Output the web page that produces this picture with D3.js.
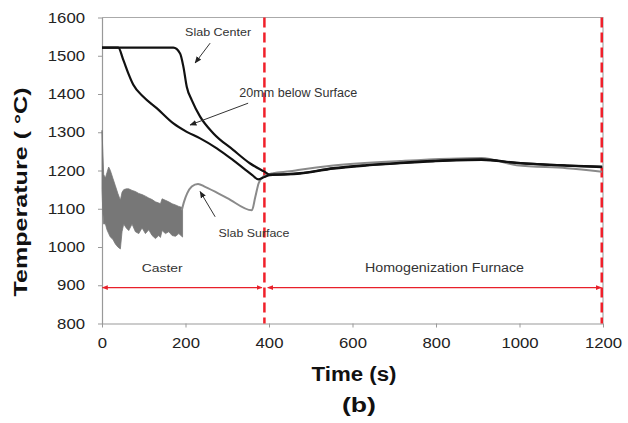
<!DOCTYPE html>
<html>
<head>
<meta charset="utf-8">
<script src="https://cdn.jsdelivr.net/npm/d3@7"></script>
<style>
  body { margin: 0; background: #fff; }
  svg { display: block; font-family: "Liberation Sans", Arial, sans-serif; }
</style>
</head>
<body>
<svg id="chart" width="628" height="423"></svg>
<script>
// axis ticks
const xTicks = [0, 200, 400, 600, 800, 1000, 1200];
const yTicks = [800, 900, 1000, 1100, 1200, 1300, 1400, 1500, 1600];

// slab center (black)
const centerTime = [0, 171, 187, 195, 203, 215, 235, 267, 314, 354, 389, 402, 474, 554, 634, 714, 794, 909, 993, 1113, 1198];
const centerTemp = [1521, 1521, 1506, 1471, 1419, 1384, 1341, 1297, 1254, 1219, 1197, 1189, 1193, 1206, 1214, 1220, 1225, 1229, 1220, 1213, 1210];

// 20 mm below surface (black)
const subTime = [0, 39, 51, 63, 75, 99, 131, 171, 203, 235, 275, 314, 340, 360, 374, 389, 402, 474, 554, 634, 714, 794, 909, 993, 1113, 1198];
const subTemp = [1521, 1521, 1489, 1454, 1424, 1393, 1363, 1323, 1301, 1284, 1258, 1227, 1205, 1188, 1177, 1183, 1188, 1192, 1205, 1213, 1219, 1224, 1228, 1220, 1213, 1209];

// slab surface: oscillating band in the mould/spray zone (envelope)
const bandTime = [0, 2, 4, 8, 12, 16, 20, 26, 32, 38, 44, 48, 52, 58, 64, 72, 80, 88, 96, 104, 112, 120, 128, 136, 140, 144, 152, 160, 168, 176, 184, 193];
const bandHigh = [1305, 1250, 1190, 1180, 1195, 1209, 1200, 1180, 1160, 1140, 1122, 1143, 1150, 1152, 1152, 1148, 1145, 1140, 1137, 1133, 1128, 1124, 1118, 1115, 1113, 1126, 1122, 1118, 1113, 1110, 1106, 1103];
const bandLow = [1150, 1090, 1060, 1061, 1045, 1035, 1026, 1020, 1008, 1000, 995, 1040, 1060, 1050, 1043, 1060, 1040, 1035, 1050, 1035, 1045, 1030, 1022, 1030, 1025, 1043, 1035, 1040, 1030, 1028, 1035, 1026];

// slab surface after the band
const surfTime = [191, 197, 204, 215, 230, 247, 300, 359, 367, 375, 386, 410, 450, 474, 554, 714, 909, 993, 1113, 1198];
const surfTemp = [1096, 1120, 1140, 1158, 1165, 1157, 1128, 1096, 1130, 1166, 1184, 1193, 1198, 1202, 1213, 1225, 1233, 1214, 1206, 1197];

// zone boundaries and zone arrows
const zoneLines = [389, 1197];
const zoneArrowTemp = 894;
const zoneArrows = [[1, 383], [397, 1196]];

// annotations: [label, time, temp, width], arrows: [fromTime, fromTemp, toTime, toTemp]
const labels = [
  ["Slab Center", 199, 1552, 66],
  ["20mm below Surface", 329, 1393, 118],
  ["Slab Surface", 279, 1025, 71],
  ["Caster", 95, 935, 41],
  ["Homogenization Furnace", 630, 934, 159]
];
const arrows = [
  [259, 1533, 223, 1481],
  [350, 1376, 211, 1319],
  [271, 1079, 235, 1145]
];

const svg = d3.select("#chart");
const x = d3.scaleLinear().domain([0, 1200]).range([102, 603]);
const y = d3.scaleLinear().domain([800, 1600]).range([323.5, 17.5]);

const defs = svg.append("defs");
defs.append("marker").attr("id", "ah").attr("viewBox", "0 0 10 10")
  .attr("refX", 9).attr("refY", 5).attr("markerWidth", 7).attr("markerHeight", 7)
  .attr("markerUnits", "userSpaceOnUse").attr("orient", "auto")
  .append("path").attr("d", "M0,1L10,5L0,9Z").attr("fill", "#222");
defs.append("marker").attr("id", "rh").attr("viewBox", "0 0 10 10")
  .attr("refX", 9).attr("refY", 5).attr("markerWidth", 6).attr("markerHeight", 6)
  .attr("markerUnits", "userSpaceOnUse").attr("orient", "auto-start-reverse")
  .append("path").attr("d", "M0,1L10,5L0,9Z").attr("fill", "#e8202a");

// frame (top and right)
svg.append("path")
  .attr("d", `M${x(0)},${y(1600)}H${x(1200)}V${y(800)}`)
  .attr("fill", "none").attr("stroke", "#aaa").attr("stroke-width", 1.2);

// axes
const fmt = d3.format("d");
const yAxis = svg.append("g").attr("transform", `translate(${x(0)},0)`)
  .call(d3.axisLeft(y).tickValues(yTicks).tickFormat(fmt).tickSizeInner(4).tickSizeOuter(0).tickPadding(13));
const xAxis = svg.append("g").attr("transform", `translate(0,${y(800)})`)
  .call(d3.axisBottom(x).tickValues(xTicks).tickFormat(fmt).tickSizeInner(4).tickSizeOuter(0).tickPadding(10));
[xAxis, yAxis].forEach(a => {
  a.select(".domain").attr("stroke", "#999").attr("stroke-width", 1.2);
  a.selectAll(".tick line").attr("stroke", "#999");
  a.selectAll(".tick text")
    .attr("font-size", 14.5).attr("fill", "#222")
    .attr("font-family", "Liberation Sans, Arial, sans-serif")
    .attr("textLength", d => fmt(d).length * 9.3)
    .attr("lengthAdjust", "spacingAndGlyphs");
});

// zone lines
svg.selectAll(".zone").data(zoneLines).enter().append("line")
  .attr("x1", d => x(d)).attr("x2", d => x(d))
  .attr("y1", y(1600)).attr("y2", y(800))
  .attr("stroke", "#f0202a").attr("stroke-width", 2.5).attr("stroke-dasharray", "10,5");

svg.selectAll(".zarrow").data(zoneArrows).enter().append("line")
  .attr("x1", d => x(d[0])).attr("x2", d => x(d[1]))
  .attr("y1", y(zoneArrowTemp)).attr("y2", y(zoneArrowTemp))
  .attr("stroke", "#e8202a").attr("stroke-width", 1.2)
  .attr("marker-start", "url(#rh)").attr("marker-end", "url(#rh)");

// surface band
svg.append("path")
  .datum(bandTime.map((t, i) => [t, bandHigh[i], bandLow[i]]))
  .attr("d", d3.area().x(d => x(d[0])).y0(d => y(d[2])).y1(d => y(d[1])))
  .attr("fill", "#777").attr("stroke", "#777").attr("stroke-width", 0.8);

const line = d3.line().x(d => x(d[0])).y(d => y(d[1])).curve(d3.curveMonotoneX);

svg.append("path")
  .datum(surfTime.map((t, i) => [t, surfTemp[i]]))
  .attr("d", line).attr("fill", "none").attr("stroke", "#8a8a8a").attr("stroke-width", 2);

svg.append("path")
  .datum(subTime.map((t, i) => [t, subTemp[i]]))
  .attr("d", line).attr("fill", "none").attr("stroke", "#111").attr("stroke-width", 2.2);

svg.append("path")
  .datum(centerTime.map((t, i) => [t, centerTemp[i]]))
  .attr("d", line).attr("fill", "none").attr("stroke", "#111").attr("stroke-width", 2.2);

// annotation arrows
svg.selectAll(".ann").data(arrows).enter().append("line")
  .attr("x1", d => x(d[0])).attr("y1", d => y(d[1]))
  .attr("x2", d => x(d[2])).attr("y2", d => y(d[3]))
  .attr("stroke", "#333").attr("stroke-width", 1)
  .attr("marker-end", "url(#ah)");

svg.selectAll(".lbl").data(labels).enter().append("text")
  .attr("x", d => x(d[1])).attr("y", d => y(d[2]))
  .attr("font-size", d => d[0].length > 12 ? 12.5 : 11.5)
  .attr("fill", "#333")
  .attr("textLength", d => d[3]).attr("lengthAdjust", "spacingAndGlyphs")
  .text(d => d[0]);

// titles
svg.append("text")
  .attr("transform", "translate(27,192) rotate(-90)")
  .attr("text-anchor", "middle").attr("font-size", 19).attr("font-weight", "bold")
  .attr("fill", "#111").attr("textLength", 209).attr("lengthAdjust", "spacingAndGlyphs")
  .text("Temperature ( °C)");

svg.append("text")
  .attr("x", 354).attr("y", 381).attr("text-anchor", "middle")
  .attr("font-size", 20).attr("font-weight", "bold").attr("fill", "#111")
  .attr("textLength", 85).attr("lengthAdjust", "spacingAndGlyphs")
  .text("Time (s)");

svg.append("text")
  .attr("x", 359).attr("y", 412).attr("text-anchor", "middle")
  .attr("font-size", 21).attr("font-weight", "bold").attr("fill", "#111")
  .attr("textLength", 34).attr("lengthAdjust", "spacingAndGlyphs")
  .text("(b)");
</script>
</body>
</html>
